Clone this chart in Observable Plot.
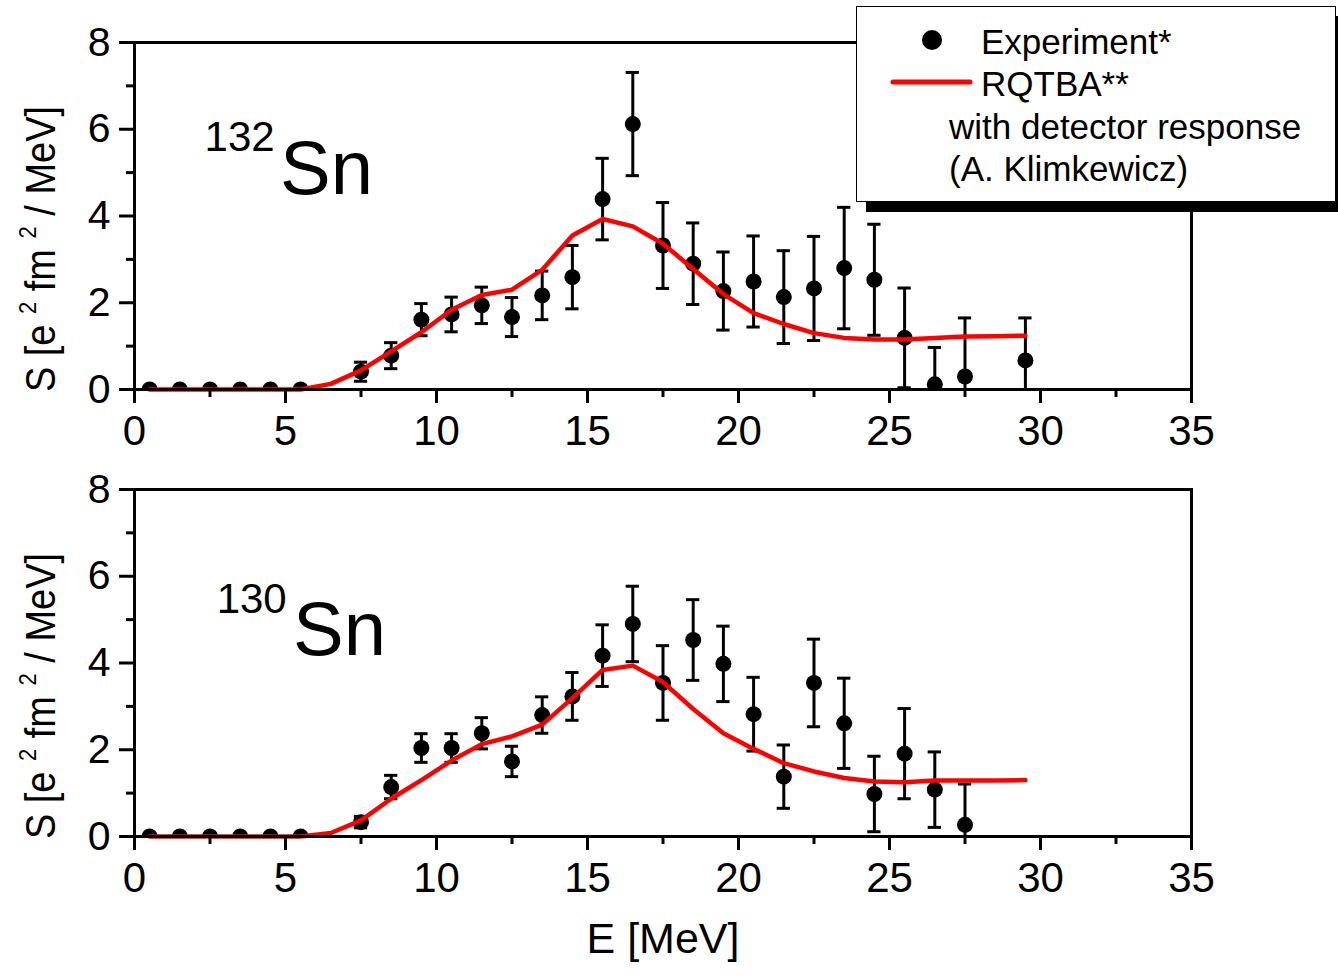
<!DOCTYPE html>
<html>
<head>
<meta charset="utf-8">
<script src="https://cdn.jsdelivr.net/npm/d3@7"></script>
<script src="https://cdn.jsdelivr.net/npm/@observablehq/plot@0.6"></script>
<style>
  html, body { margin: 0; padding: 0; background: #fff; overflow: hidden; }
  #chart { position: relative; width: 1338px; height: 977px; font-family: "Liberation Sans", Arial, sans-serif; }
  #chart svg.panel { position: absolute; left: 0; }
  .legend { position: absolute; left: 856px; top: 6px; width: 480px; height: 196px; box-sizing: border-box;
            border: 1.5px solid #000; background: #fff; box-shadow: 10px 10px 0 #000; z-index: 5; }
  .legend .t { position: absolute; font-size: 35px; line-height: 1; color: #000; white-space: nowrap; }
  .legend svg { position: absolute; left: 0; top: 0; }
</style>
</head>
<body>
<div id="chart"></div>
<script>
// Excitation energy bins (MeV) of the measured points
const expEnergy132 = [0.5, 1.5, 2.5, 3.5, 4.5, 5.5, 7.5, 8.5, 9.5, 10.5, 11.5, 12.5, 13.5, 14.5, 15.5,
                      16.5, 17.5, 18.5, 19.5, 20.5, 21.5, 22.5, 23.5, 24.5, 25.5, 26.5, 27.5, 29.5];
const expStrength132 = [0, 0, 0, 0, 0, 0, 0.41, 0.78, 1.61, 1.73, 1.94, 1.67, 2.17, 2.59, 4.39,
                        6.12, 3.32, 2.90, 2.27, 2.49, 2.13, 2.33, 2.80, 2.53, 1.19, 0.12, 0.30, 0.67];
const expError132 = [0, 0, 0, 0, 0, 0, 0.22, 0.30, 0.37, 0.40, 0.42, 0.45, 0.56, 0.73, 0.94,
                     1.19, 0.99, 0.94, 0.90, 1.05, 1.07, 1.20, 1.40, 1.28, 1.15, 0.85, 1.35, 0.98];

const expEnergy130 = [0.5, 1.5, 2.5, 3.5, 4.5, 5.5, 7.5, 8.5, 9.5, 10.5, 11.5, 12.5, 13.5, 14.5, 15.5,
                      16.5, 17.5, 18.5, 19.5, 20.5, 21.5, 22.5, 23.5, 24.5, 25.5, 26.5, 27.5];
const expStrength130 = [0, 0, 0, 0, 0, 0, 0.33, 1.14, 2.04, 2.04, 2.38, 1.73, 2.80, 3.23, 4.17,
                        4.90, 3.54, 4.53, 3.98, 2.82, 1.38, 3.54, 2.61, 0.98, 1.91, 1.08, 0.27];
const expError130 = [0, 0, 0, 0, 0, 0, 0.13, 0.27, 0.33, 0.33, 0.36, 0.35, 0.42, 0.55, 0.71,
                     0.87, 0.86, 0.93, 0.87, 0.85, 0.73, 1.01, 1.04, 0.87, 1.04, 0.87, 0.94];

// RQTBA strength folded with the detector response
const theoryEnergy = [0.5, 1.5, 2.5, 3.5, 4.5, 5.5, 6.5, 7.5, 8.5, 9.5, 10.5, 11.5, 12.5, 13.5, 14.5,
                      15.5, 16.5, 17.5, 18.5, 19.5, 20.5, 21.5, 22.5, 23.5, 24.5, 25.5, 26.5, 27.5, 28.5, 29.5];
const theory132 = [0, 0, 0, 0, 0, 0, 0.13, 0.44, 0.88, 1.32, 1.84, 2.18, 2.30, 2.76, 3.55,
                   3.93, 3.76, 3.36, 2.78, 2.20, 1.76, 1.51, 1.30, 1.19, 1.15, 1.15, 1.19, 1.22, 1.23, 1.24];
const theory130 = [0, 0, 0, 0, 0, 0, 0.08, 0.37, 0.87, 1.30, 1.75, 2.13, 2.31, 2.58, 3.19,
                   3.84, 3.94, 3.56, 2.94, 2.38, 2.02, 1.69, 1.50, 1.35, 1.27, 1.25, 1.29, 1.29, 1.29, 1.30];

// Axis ticks
const xMajorTicks = [0, 5, 10, 15, 20, 25, 30, 35];
const xMinorTicks = [2.5, 7.5, 12.5, 17.5, 22.5, 27.5, 32.5];
const yMajorTicks = [0, 2, 4, 6, 8];
const yMinorTicks = [1, 3, 5, 7];

const FONT = "Liberation Sans, Arial, sans-serif";
const chart = document.getElementById("chart");

function panel({expE, expS, expErr, thS, mass, massPos, snPos, top, height, marginBottom, xLabel}) {
  const exp = expE.map((E, i) => ({E, S: expS[i], err: expErr[i]}));
  const bars = exp.filter(d => d.err > 0);
  const theory = theoryEnergy.map((E, i) => ({E, S: thS[i]}));
  const capHalf = 0.22;

  const marks = [
    Plot.ruleX(bars, {x: "E", y1: d => d.S - d.err, y2: d => d.S + d.err, stroke: "#000", strokeWidth: 3, clip: true}),
    Plot.ruleY(bars, {x1: d => d.E - capHalf, x2: d => d.E + capHalf, y: d => d.S + d.err, stroke: "#000", strokeWidth: 3, clip: true}),
    Plot.ruleY(bars, {x1: d => d.E - capHalf, x2: d => d.E + capHalf, y: d => d.S - d.err, stroke: "#000", strokeWidth: 3, clip: true}),
    Plot.dot(exp, {x: "E", y: "S", r: 8, fill: "#000", stroke: "none", clip: true}),
    Plot.line(theory, {x: "E", y: "S", stroke: "#ff0000", strokeWidth: 4.5, strokeLinejoin: "round"}),
    Plot.frame({stroke: "#000", strokeWidth: 3}),
    Plot.axisX({ticks: xMajorTicks, tickSize: 14, tickPadding: 12, strokeWidth: 3, fontSize: 42, label: null, tickFormat: d => d}),
    Plot.axisX({ticks: xMinorTicks, tickSize: 8, strokeWidth: 3, text: null, label: null}),
    Plot.axisY({ticks: yMajorTicks, tickSize: 15, tickPadding: 9, strokeWidth: 3, fontSize: 41, label: null, tickFormat: d => d}),
    Plot.axisY({ticks: yMinorTicks, tickSize: 8, strokeWidth: 3, text: null, label: null}),
    // isotope label: mass number as a superscript before "Sn"
    Plot.text([mass], {x: massPos[0], y: massPos[1], text: d => d, textAnchor: "start", lineAnchor: "bottom", fontSize: 42, fill: "#000"}),
    Plot.text(["Sn"], {x: snPos[0], y: snPos[1], text: d => d, textAnchor: "start", lineAnchor: "bottom", fontSize: 76, fill: "#000"})
  ];
  if (xLabel) {
    marks.push(Plot.text([xLabel], {frameAnchor: "bottom", dy: 116, text: d => d, fontSize: 43, fill: "#000"}));
  }

  const svg = Plot.plot({
    width: 1338,
    height,
    marginLeft: 134,
    marginRight: 147,
    marginTop: 42,
    marginBottom,
    x: {domain: [0, 35]},
    y: {domain: [0, 8]},
    style: {fontFamily: FONT, background: "transparent", color: "#000", overflow: "visible"},
    marks
  });
  svg.classList.add("panel");
  svg.style.top = top + "px";

  // rotated y-axis title with superscript exponents
  const title = d3.select(svg).append("text")
    .attr("transform", "translate(55,249) rotate(-90) scale(1,1.12)")
    .attr("text-anchor", "middle")
    .attr("font-family", FONT)
    .attr("font-size", 38)
    .attr("fill", "#000");
  title.append("tspan").text("S [e ");
  title.append("tspan").attr("font-size", 22).attr("dy", -17).text("2");
  title.append("tspan").attr("dy", 17).text(" fm ");
  title.append("tspan").attr("font-size", 22).attr("dy", -17).text("2");
  title.append("tspan").attr("dy", 17).text(" / MeV]");

  chart.appendChild(svg);
}

panel({
  expE: expEnergy132, expS: expStrength132, expErr: expError132, thS: theory132,
  mass: "132", massPos: [2.32, 5.51], snPos: [4.82, 4.5],
  top: 0, height: 459, marginBottom: 70
});
panel({
  expE: expEnergy130, expS: expStrength130, expErr: expError130, thS: theory130,
  mass: "130", massPos: [2.72, 5.16], snPos: [5.25, 4.18],
  top: 447, height: 530, marginBottom: 141, xLabel: "E [MeV]"
});

// Legend box with drop shadow, overlapping the upper panel's corner
const legend = document.createElement("div");
legend.className = "legend";
legend.innerHTML = `
  <svg width="480" height="196">
    <circle cx="75" cy="33" r="10" fill="#000"></circle>
    <line x1="36" x2="113" y1="75" y2="75" stroke="#ff0000" stroke-width="5" stroke-linecap="round"></line>
  </svg>
  <span class="t" style="left:124px;top:17px">Experiment*</span>
  <span class="t" style="left:124px;top:59px">RQTBA**</span>
  <span class="t" style="left:92px;top:102px">with detector response</span>
  <span class="t" style="left:92px;top:144px">(A. Klimkewicz)</span>`;
chart.appendChild(legend);
</script>
</body>
</html>
